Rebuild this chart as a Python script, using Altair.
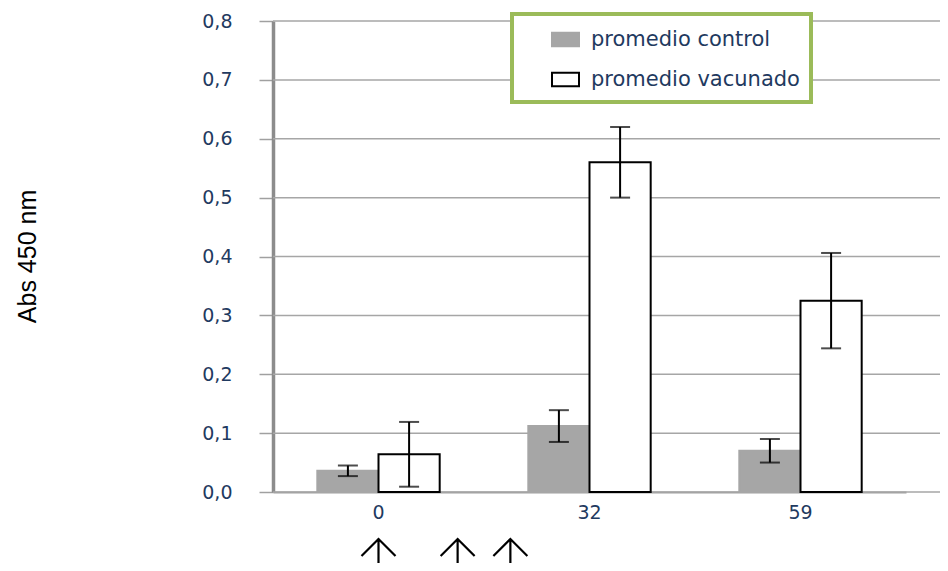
import altair as alt
import pandas as pd

# ---- data ----
dias = ["0", "32", "59"]
series = ["promedio control", "promedio vacunado"]
control_media = [0.036, 0.112, 0.070]
control_err = [0.009, 0.027, 0.020]
vacunado_media = [0.064, 0.560, 0.325]
vacunado_err = [0.055, 0.060, 0.081]
y_ticks = [0.0, 0.1, 0.2, 0.3, 0.4, 0.5, 0.6, 0.7, 0.8]
y_title = "Abs 450 nm"
# days marked with arrows under the axis (immunisations)
arrow_days = [0, 12, 20]

rows = []
for i, d in enumerate(dias):
    rows.append({"dia": d, "serie": series[0], "media": control_media[i],
                 "lo": control_media[i] - control_err[i], "hi": control_media[i] + control_err[i]})
    rows.append({"dia": d, "serie": series[1], "media": vacunado_media[i],
                 "lo": vacunado_media[i] - vacunado_err[i], "hi": vacunado_media[i] + vacunado_err[i]})
df = pd.DataFrame(rows)
grid_df = pd.DataFrame({"v": y_ticks})
arrow_df = pd.DataFrame({"dia_flecha": arrow_days})

LABEL_FONT = "DejaVu Sans"
LABEL_COLOR = "#1f3a60"

legend = alt.Legend(
    orient="none", legendX=239, legendY=-7, title=None,
    labelFont=LABEL_FONT, labelFontSize=21, labelColor=LABEL_COLOR, labelLimit=0,
    symbolType="M-1,-0.5H1V0.5H-1Z", symbolSize=729, symbolStrokeWidth=2,
    rowPadding=14, labelOffset=11, symbolOffset=28, padding=11,
    strokeColor="#9bbb59", fillColor="white",
)

x_enc = alt.X(
    "dia:N", sort=dias,
    scale=alt.Scale(range=[0, 633], paddingInner=0.42, paddingOuter=0.21),
    axis=alt.Axis(
        title=None,
        labelAngle=0, labelFont=LABEL_FONT, labelFontSize=19, labelColor=LABEL_COLOR,
        labelPadding=11, ticks=False, domainColor="#a0a0a0", domainWidth=2, grid=False,
    ),
)
xoff = alt.XOffset("serie:N", sort=series, scale=alt.Scale(paddingInner=0, paddingOuter=0))

y_axis = alt.Axis(
    values=y_ticks, labelExpr="replace(format(datum.value, '.1f'), '.', ',')",
    title=y_title, titleFont="Liberation Sans",
    titleFontSize=25, titleFontWeight="normal", titleColor="black",
    titleX=-233, titleY=235,
    labelFont=LABEL_FONT, labelFontSize=19, labelColor=LABEL_COLOR, labelPadding=27,
    domainColor="#8c8c8c", domainWidth=3.5, tickColor="#a0a0a0", tickSize=14, tickWidth=1.5,
    grid=False,
)
y_scale = alt.Scale(domain=[0, 0.8], nice=False)

grid = alt.Chart(grid_df).mark_rule(color="#a6a6a6", strokeWidth=1.5).encode(
    y=alt.Y("v:Q", scale=y_scale, axis=y_axis),
    x=alt.value(0), x2=alt.value("width"),
)

base = alt.Chart(df).encode(x=x_enc, xOffset=xoff)

bars = base.mark_bar(strokeWidth=2).encode(
    y=alt.Y("media:Q", scale=y_scale, axis=y_axis),
    fill=alt.Fill("serie:N", sort=series,
                  scale=alt.Scale(domain=series, range=["#a6a6a6", "#ffffff"]), legend=legend),
    stroke=alt.Stroke("serie:N", sort=series,
                      scale=alt.Scale(domain=series, range=["#a6a6a6", "#000000"]), legend=legend),
)

err_rule = base.mark_rule(color="black", strokeWidth=2).encode(
    y=alt.Y("lo:Q", scale=y_scale, axis=y_axis), y2="hi:Q")
err_lo = base.mark_tick(color="black", thickness=2, size=20).encode(
    y=alt.Y("lo:Q", scale=y_scale, axis=y_axis))
err_hi = base.mark_tick(color="black", thickness=2, size=20).encode(
    y=alt.Y("hi:Q", scale=y_scale, axis=y_axis))

main = alt.layer(grid, bars, err_rule, err_lo, err_hi)

# arrows under the x axis: day scale spanning the centres of the "0" and "32" groups
arrows = alt.Chart(arrow_df).mark_point(
    shape="M-1,0L0,-1L1,0M0,-1L0,2.5", filled=False, size=1156,
    strokeWidth=2.2, color="black", opacity=1, yOffset=64,
).encode(
    x=alt.X("dia_flecha:Q", scale=alt.Scale(domain=[0, 32], range=[105.5, 316.5]), axis=None),
    y=alt.value("height"),
)

chart = alt.layer(main, arrows).resolve_scale(
    x="independent"
).properties(
    width=667, height=471,
    autosize=alt.AutoSizeParams(type="none"),
    padding={"left": 265, "top": 13, "right": 0, "bottom": 71},
).configure_view(stroke=None).configure_legend(strokeWidth=4)

chart.save("out.html", embed_options={"renderer": "svg", "actions": False})
